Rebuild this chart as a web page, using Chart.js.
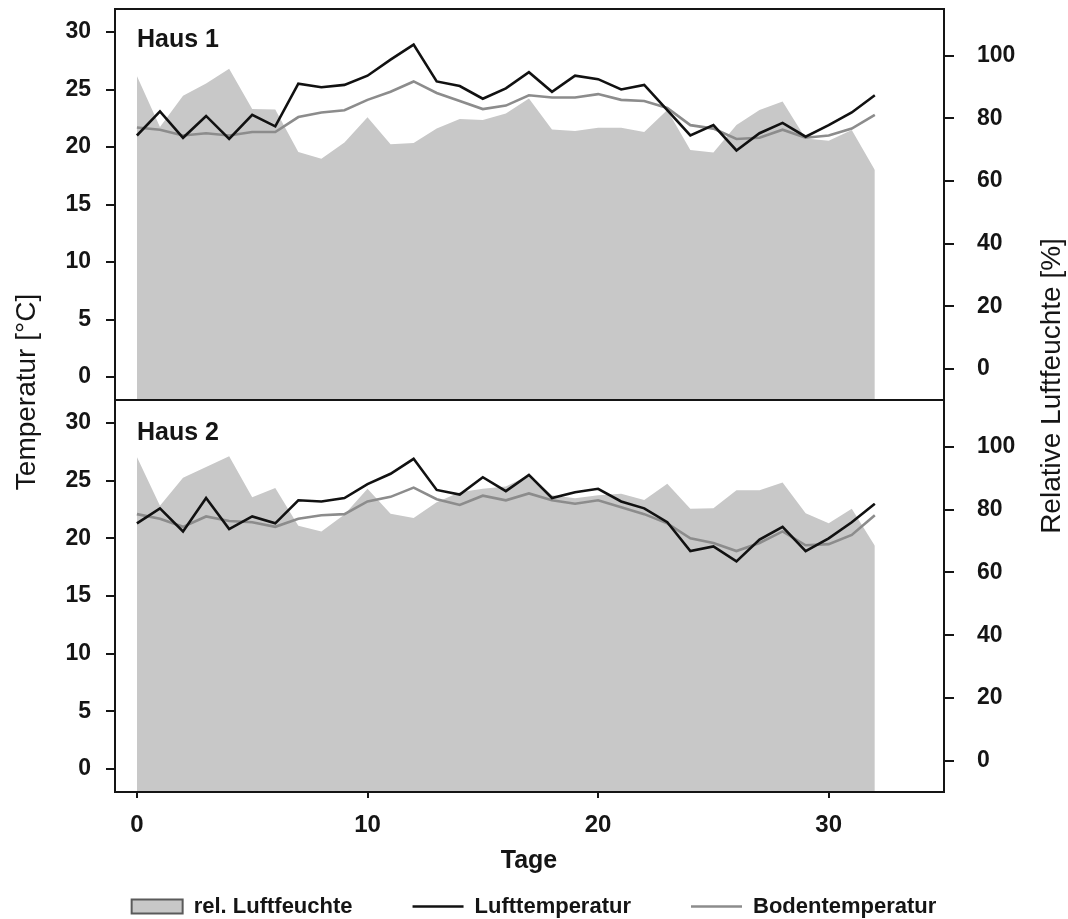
<!DOCTYPE html>
<html lang="de">
<head>
<meta charset="utf-8">
<title>Temperatur und Luftfeuchte – Haus 1 / Haus 2</title>
<script src="https://cdn.jsdelivr.net/npm/chart.js@4.4.1/dist/chart.umd.min.js"></script>
<style>
  html, body { margin: 0; padding: 0; background: #fff; overflow: hidden; }
  #wrap { position: relative; width: 1068px; height: 919px; }
  #wrap canvas { position: absolute; left: 0; top: 0; }
</style>
</head>
<body>
<div id="wrap">
  <canvas id="haus2Chart" width="1068" height="919"></canvas>
  <canvas id="haus1Chart" width="1068" height="919"></canvas>
</div>
<script>
// Tage seit Versuchsbeginn
const days = [0, 1, 2, 3, 4, 5, 6, 7, 8, 9, 10, 11, 12, 13, 14, 15, 16,
              17, 18, 19, 20, 21, 22, 23, 24, 25, 26, 27, 28, 29, 30, 31, 32];

// Haus 1
const haus1Luft = [21.0, 23.1, 20.8, 22.7, 20.7, 22.8, 21.8, 25.5, 25.2, 25.4, 26.2, 27.6, 28.9, 25.7, 25.3, 24.2, 25.1,
                   26.5, 24.8, 26.2, 25.9, 25.0, 25.4, 23.2, 21.0, 21.9, 19.7, 21.2, 22.1, 20.9, 21.9, 23.0, 24.5];
const haus1Boden = [21.7, 21.5, 21.0, 21.2, 21.0, 21.3, 21.3, 22.6, 23.0, 23.2, 24.1, 24.8, 25.7, 24.7, 24.0, 23.3, 23.6,
                    24.5, 24.3, 24.3, 24.6, 24.1, 24.0, 23.4, 21.9, 21.6, 20.7, 20.8, 21.5, 20.8, 21.0, 21.6, 22.8];
const haus1Feuchte = [93.6, 77.3, 87.3, 91.2, 95.9, 83.0, 82.9, 69.3, 67.1, 72.3, 80.4, 71.8, 72.2, 76.8, 79.8, 79.5, 81.6,
                      86.4, 76.5, 76.0, 77.0, 77.0, 75.7, 82.7, 69.9, 69.1, 77.9, 82.7, 85.4, 73.6, 72.9, 76.3, 63.5];

// Haus 2
const haus2Luft = [21.3, 22.6, 20.6, 23.5, 20.8, 21.9, 21.3, 23.3, 23.2, 23.5, 24.7, 25.6, 26.9, 24.2, 23.8, 25.3, 24.1,
                   25.5, 23.5, 24.0, 24.3, 23.2, 22.6, 21.4, 18.9, 19.3, 18.0, 19.9, 21.0, 18.9, 20.0, 21.4, 23.0];
const haus2Boden = [22.1, 21.7, 21.0, 21.9, 21.5, 21.4, 21.0, 21.7, 22.0, 22.1, 23.2, 23.6, 24.4, 23.4, 22.9, 23.7, 23.3,
                    23.9, 23.3, 23.0, 23.3, 22.7, 22.1, 21.3, 20.0, 19.6, 18.9, 19.6, 20.6, 19.4, 19.5, 20.3, 22.0];
const haus2Feuchte = [96.8, 81.3, 90.2, 93.6, 97.1, 84.0, 86.9, 74.9, 73.1, 78.5, 86.7, 78.7, 77.4, 82.4, 85.6, 86.7, 87.4,
                      91.0, 84.6, 83.7, 84.6, 85.1, 83.1, 88.3, 80.3, 80.5, 86.2, 86.2, 88.7, 78.9, 75.7, 80.3, 68.5];

// Achsenbeschriftung
const xTicks = [0, 10, 20, 30];
const tempTicks = [0, 5, 10, 15, 20, 25, 30];
const feuchteTicks = [0, 20, 40, 60, 80, 100];

const FONT = "'Liberation Sans', Arial, Helvetica, sans-serif";
const INK = '#151515';
const FEUCHTE_FILL = '#c8c8c8';
const LUFT_COLOR = '#111111';
const BODEN_COLOR = '#8c8c8c';

function points(values) {
  return days.map((d, i) => ({ x: d, y: values[i] }));
}

function panelDatasets(luft, boden, feuchte) {
  return [
    {
      label: 'rel. Luftfeuchte', data: points(feuchte), yAxisID: 'yFeuchte',
      fill: 'start', backgroundColor: FEUCHTE_FILL, borderColor: 'rgba(0,0,0,0)',
      borderWidth: 0, pointRadius: 0, tension: 0, order: 3
    },
    {
      label: 'Lufttemperatur', data: points(luft), yAxisID: 'yTemp',
      fill: false, borderColor: LUFT_COLOR, borderWidth: 2.6, pointRadius: 0, tension: 0, order: 1
    },
    {
      label: 'Bodentemperatur', data: points(boden), yAxisID: 'yTemp',
      fill: false, borderColor: BODEN_COLOR, borderWidth: 2.6, pointRadius: 0, tension: 0, order: 2
    }
  ];
}

const tickFont = { family: FONT, size: 23, weight: 'bold' };

// feste Achsbreiten, damit beide Panels exakt übereinander liegen
function fixWidth(w) {
  return s => {
    s.width = w;
    s.paddingTop = 0;
    s.paddingBottom = 0;
  };
}

function panelScales(showX) {
  return {
    x: {
      type: 'linear', min: -0.95, max: 35, display: showX,
      afterBuildTicks: s => { s.ticks = xTicks.map(v => ({ value: v })); },
      afterFit: s => {
        s.height = showX ? 43.5 : 0;
        s.paddingLeft = 0;
        s.paddingRight = 0;
      },
      border: { display: false },
      grid: { drawOnChartArea: false, tickLength: 6, color: INK, lineWidth: 2 },
      ticks: { color: INK, font: { family: FONT, size: 24, weight: 'bold' }, padding: 13, maxRotation: 0, autoSkip: false }
    },
    yTemp: {
      type: 'linear', position: 'left', min: -2, max: 32,
      afterBuildTicks: s => { s.ticks = tempTicks.map(v => ({ value: v })); },
      afterFit: fixWidth(115),
      border: { display: false },
      grid: { drawOnChartArea: false, tickLength: 9, color: INK, lineWidth: 2 },
      ticks: { color: INK, font: tickFont, padding: 15 }
    },
    yFeuchte: {
      type: 'linear', position: 'right', min: -10, max: 115,
      afterBuildTicks: s => { s.ticks = feuchteTicks.map(v => ({ value: v })); },
      afterFit: fixWidth(124),
      border: { display: false },
      grid: { drawOnChartArea: false, tickLength: 10, color: INK, lineWidth: 2 },
      ticks: { color: INK, font: tickFont, padding: 23 }
    }
  };
}

// Rahmen um jedes Panel und Hausbezeichnung oben links
const panelFrame = {
  id: 'panelFrame',
  afterDatasetsDraw(chart, args, opts) {
    const { ctx, chartArea: a } = chart;
    ctx.save();
    ctx.strokeStyle = INK;
    ctx.lineWidth = 2;
    ctx.strokeRect(a.left, a.top, a.right - a.left, a.bottom - a.top);
    ctx.fillStyle = INK;
    ctx.font = `bold 25px ${FONT}`;
    ctx.textAlign = 'left';
    ctx.textBaseline = 'alphabetic';
    ctx.fillText(opts.text, a.left + 22, a.top + opts.baseline);
    ctx.restore();
  }
};

// gemeinsame Achsentitel für beide Panels
const axisTitles = {
  id: 'axisTitles',
  afterDraw(chart) {
    const ctx = chart.ctx;
    ctx.save();
    ctx.fillStyle = INK;
    ctx.textAlign = 'center';
    ctx.textBaseline = 'middle';
    ctx.font = `28px ${FONT}`;

    ctx.save();
    ctx.translate(27, 392);
    ctx.rotate(-Math.PI / 2);
    ctx.fillText('Temperatur [°C]', 0, 0);
    ctx.restore();

    ctx.save();
    ctx.translate(1052, 386);
    ctx.rotate(-Math.PI / 2);
    ctx.fillText('Relative Luftfeuchte [%]', 0, 0);
    ctx.restore();

    ctx.font = `bold 25px ${FONT}`;
    ctx.fillText('Tage', 529, 861);
    ctx.restore();
  }
};

const baseOptions = {
  responsive: false,
  animation: false,
  events: []
};

// Haus 1 (oben)
new Chart(document.getElementById('haus1Chart'), {
  type: 'line',
  data: { datasets: panelDatasets(haus1Luft, haus1Boden, haus1Feuchte) },
  options: {
    ...baseOptions,
    layout: { padding: { top: 9, bottom: 519, left: 0, right: 0 } },
    scales: panelScales(false),
    plugins: {
      legend: { display: false },
      tooltip: { enabled: false },
      panelFrame: { text: 'Haus 1', baseline: 38 }
    }
  },
  plugins: [panelFrame, axisTitles]
});

// Haus 2 (unten), mit x-Achse und Legende
new Chart(document.getElementById('haus2Chart'), {
  type: 'line',
  data: { datasets: panelDatasets(haus2Luft, haus2Boden, haus2Feuchte) },
  options: {
    ...baseOptions,
    layout: { padding: { top: 400, bottom: -8.5, left: 0, right: 0 } },
    scales: panelScales(true),
    plugins: {
      tooltip: { enabled: false },
      panelFrame: { text: 'Haus 2', baseline: 40 },
      legend: {
        position: 'bottom',
        labels: {
          usePointStyle: true,
          pointStyleWidth: 51,
          boxHeight: 14,
          padding: 60,
          color: INK,
          font: { family: FONT, size: 22, weight: 'bold' },
          generateLabels: chart => chart.data.datasets.map((ds, i) => ({
            text: ds.label,
            datasetIndex: i,
            hidden: false,
            fontColor: INK,
            pointStyle: i === 0 ? 'rect' : 'line',
            fillStyle: i === 0 ? FEUCHTE_FILL : ds.borderColor,
            strokeStyle: i === 0 ? '#5a5a5a' : ds.borderColor,
            lineWidth: i === 0 ? 2 : 2.5
          }))
        }
      }
    }
  },
  plugins: [panelFrame]
});
</script>
</body>
</html>
